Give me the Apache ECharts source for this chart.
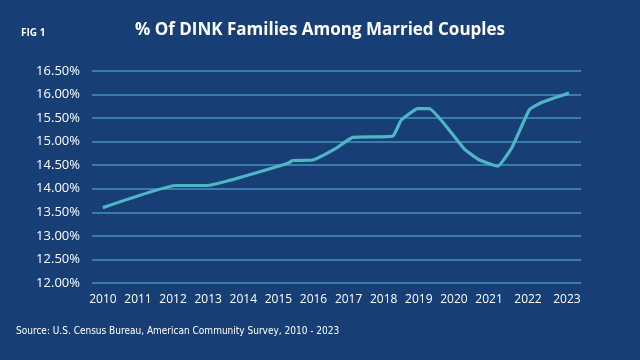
<!DOCTYPE html>
<html>
<head>
<meta charset="utf-8">
<script src="https://cdn.jsdelivr.net/npm/echarts@6/dist/echarts.min.js"></script>
<style>
html,body{margin:0;padding:0;background:#173f76;}
#c{width:640px;height:360px;}
</style>
</head>
<body>
<div id="c"></div>
<script>
// x positions in axis-year units
const xYears = [2010.00, 2012.09, 2012.95, 2015.27, 2015.40, 2015.98, 2016.60, 2017.12, 2018.26, 2018.50, 2018.97, 2019.30, 2020.30, 2020.73, 2021.25, 2021.65, 2022.15, 2022.44, 2022.87, 2023.28];
const dinkPct = [13.60, 14.07, 14.07, 14.54, 14.60, 14.61, 14.84, 15.09, 15.12, 15.46, 15.70, 15.70, 14.84, 14.61, 14.48, 14.87, 15.68, 15.81, 15.93, 16.03];
const yearTicks = [2010, 2011, 2012, 2013, 2014, 2015, 2016, 2017, 2018, 2019, 2020, 2021, 2022.11, 2023.22];

const chart = echarts.init(document.getElementById('c'));
chart.setOption({
  backgroundColor: '#173f76',
  animation: false,
  title: [
    { text: '% Of DINK Families Among Married Couples', left: 'center', top: 17,
      textStyle: { color: '#ffffff', fontSize: 17, fontWeight: 'bold', fontFamily: 'Open Sans' } },
    { text: 'FIG 1', left: 16, top: 23,
      textStyle: { color: '#ffffff', fontSize: 10, fontWeight: 'bold', fontFamily: 'Open Sans' } }
  ],
  graphic: [
    { type: 'text', left: 16, top: 326,
      style: { text: 'Source: U.S. Census Bureau, American Community Survey, 2010 - 2023',
        fill: '#ffffff', fontSize: 10, fontFamily: '"DejaVu Sans Condensed", "Liberation Sans", sans-serif' } }
  ],
  grid: { left: 92, right: 59, top: 71, bottom: 77 },
  xAxis: {
    type: 'value', min: 2009.69, max: 2023.62,
    axisLine: { show: false }, axisTick: { show: false }, splitLine: { show: false },
    axisLabel: { customValues: yearTicks, color: '#ffffff', fontSize: 12, margin: 11, fontFamily: 'Open Sans',
      formatter: v => String(Math.round(v)) }
  },
  yAxis: {
    type: 'value', min: 12, max: 16.5, interval: 0.5,
    axisLine: { show: false }, axisTick: { show: false },
    splitLine: { lineStyle: { color: '#4693c2', width: 1.5 } },
    axisLabel: { color: '#ffffff', fontSize: 13, margin: 12, fontFamily: 'Open Sans',
      formatter: v => v.toFixed(2) + '%' }
  },
  series: [{
    type: 'line', showSymbol: false, smooth: 0.12,
    data: xYears.map((x, i) => [x, dinkPct[i]]),
    lineStyle: { color: '#4fb6c6', width: 3.2 }
  }]
});
</script>
</body>
</html>
